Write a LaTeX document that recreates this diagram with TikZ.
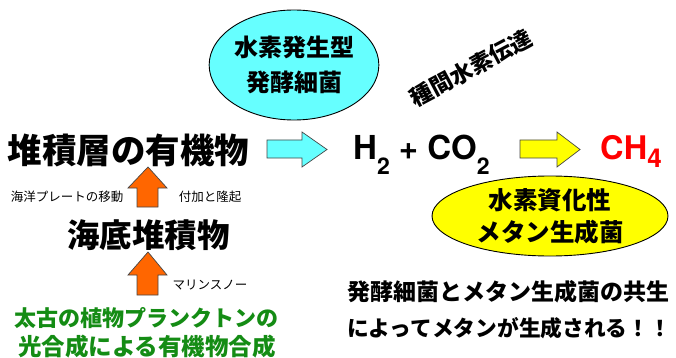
\documentclass[tikz,border=0pt]{standalone}
\usepackage{fontspec}
\setmainfont{TeX Gyre Heros}
\newfontfamily\arialb{TeX Gyre Heros}
\newfontfamily\jp{Noto Sans CJK JP}
\usetikzlibrary{shapes.geometric}
\definecolor{cyanfill}{RGB}{102,255,255}
\definecolor{orangefill}{RGB}{255,102,0}
\definecolor{yellowfill}{RGB}{255,255,0}
\definecolor{greentext}{RGB}{20,140,20}
\definecolor{redtext}{RGB}{255,0,0}
\definecolor{arrowline}{RGB}{70,70,70}
\tikzset{
  jtext/.style={inner sep=0pt, font=\jp\bfseries},
  small/.style={inner sep=0pt, font=\jp\fontsize{12.5}{14}\selectfont},
  blob/.style={ellipse, draw=black, line width=0.9pt, inner sep=0pt, align=center},
  blockarrow/.style={draw=arrowline, line width=0.7pt, line join=miter},
}
\begin{document}
\begin{tikzpicture}[x=1pt,y=-1pt]
\path[use as bounding box, fill=white] (0,0) rectangle (676,358);

% ellipses
\node[blob, fill=cyanfill, minimum width=162pt, minimum height=110pt,
      font=\jp\bfseries\fontsize{24}{35}\selectfont] (ferm) at (294,65)
      {水素発生型\\発酵細菌};
\node[blob, fill=yellowfill, minimum width=236pt, minimum height=80pt,
      font=\jp\bfseries\fontsize{24.5}{32}\selectfont] (meth) at (550,216)
      {水素資化性\\メタン生成菌};

% rotated label
\node[jtext, font=\jp\bfseries\fontsize{22.5}{24}\selectfont, rotate=28] (trans) at (471,68) {種間水素伝達};

% main row
\node[jtext, font=\jp\bfseries\fontsize{34.5}{36}\selectfont] (org) at (128.5,150) {堆積層の有機物};
\node[inner sep=0pt, anchor=base west, font=\arialb\bfseries\fontsize{33}{36}\selectfont] (h2) at (353,160)
  {H\raisebox{-15pt}{\fontsize{23}{24}\selectfont 2} + CO\raisebox{-15pt}{\fontsize{23}{24}\selectfont 2}};
\node[inner sep=0pt, anchor=base west, text=redtext, font=\arialb\bfseries\fontsize{32.5}{36}\selectfont] (ch4) at (600,160)
  {CH\raisebox{-8pt}{\fontsize{26}{28}\selectfont 4}};

% horizontal block arrows
\draw[blockarrow, fill=cyanfill] (267,140) -- (302,140) -- (302,132) -- (327,149.5) -- (302,167) -- (302,158) -- (267,158) -- cycle;
\draw[blockarrow, fill=yellowfill] (520,140) -- (557,140) -- (557,132) -- (580,149.5) -- (557,167) -- (557,158) -- (520,158) -- cycle;

% vertical orange arrows
\draw[blockarrow, fill=orangefill] (137,207) -- (137,188) -- (128,188) -- (148,167) -- (167,188) -- (158,188) -- (158,207) -- cycle;
\draw[blockarrow, fill=orangefill] (137,295) -- (137,275) -- (128,275) -- (148,252) -- (167,275) -- (158,275) -- (158,295) -- cycle;

% small labels
\node[small] (plate) at (67,197) {海洋プレートの移動};
\node[small] (accr) at (210,197) {付加と隆起};
\node[small] (snow) at (210,285) {マリンスノー};

% sea-floor sediment
\node[jtext, font=\jp\bfseries\fontsize{32.5}{34}\selectfont] (sed) at (148.5,235) {海底堆積物};

% green text
\node[jtext, text=greentext, font=\jp\bfseries\fontsize{22}{24}\selectfont] (g1) at (146.5,318) {太古の植物プランクトンの};
\node[jtext, text=greentext, font=\jp\bfseries\fontsize{23.5}{24}\selectfont] (g2) at (147,347) {光合成による有機物合成};

% conclusion
\node[jtext, anchor=west, font=\jp\bfseries\fontsize{23}{24}\selectfont] (c1) at (347,292) {発酵細菌とメタン生成菌の共生};
\node[jtext, anchor=west, font=\jp\bfseries\fontsize{21.7}{24}\selectfont] (c2) at (347,328) {によってメタンが生成される！！};
\end{tikzpicture}
\end{document}
